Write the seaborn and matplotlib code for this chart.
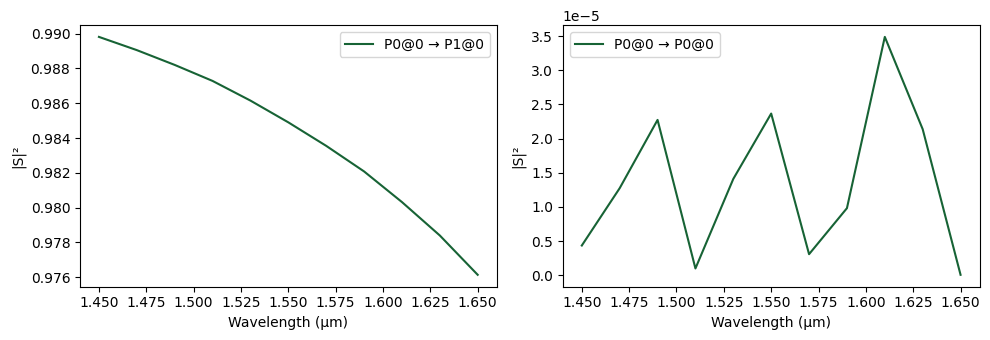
import numpy as np
import pandas as pd
import matplotlib
matplotlib.use("Agg")
import matplotlib.pyplot as plt
import matplotlib.ticker as mticker
import seaborn as sns

wavelength = [1.45, 1.47, 1.49, 1.51, 1.53, 1.55, 1.57, 1.59, 1.61, 1.63, 1.65]
s_p0_p1 = [0.98981, 0.98905, 0.98820, 0.98728, 0.98615, 0.98490, 0.98355, 0.98208, 0.98032, 0.97840, 0.97614]
s_p0_p0 = [0.434e-5, 1.274e-5, 2.274e-5, 0.098e-5, 1.41e-5, 2.367e-5, 0.307e-5, 0.981e-5, 3.49e-5, 2.138e-5, 0.005e-5]

line_color = "#176335"

plt.rcParams["font.family"] = ["DejaVu Sans"]

fig, axes = plt.subplots(1, 2, figsize=(9.9, 3.4), dpi=100)
fig.subplots_adjust(left=80 / 990, right=979.5 / 990, top=1 - 25 / 340,
                    bottom=1 - 286.7 / 340, wspace=0.159)

df1 = pd.DataFrame({"wl": wavelength, "s": s_p0_p1})
df2 = pd.DataFrame({"wl": wavelength, "s": s_p0_p0})

sns.lineplot(data=df1, x="wl", y="s", ax=axes[0], color=line_color,
             label="P0@0 \u2192 P1@0")
sns.lineplot(data=df2, x="wl", y="s", ax=axes[1], color=line_color,
             label="P0@0 \u2192 P0@0")

for ax, loc in zip(axes, ["upper right", "upper left"]):
    ax.set_xlabel("Wavelength (\u00b5m)")
    ax.set_ylabel("|S|\u00b2")
    ax.set_xticks([1.45, 1.475, 1.5, 1.525, 1.55, 1.575, 1.6, 1.625, 1.65])
    ax.xaxis.set_major_formatter(mticker.FormatStrFormatter("%.3f"))
    ax.legend(loc=loc)

axes[0].yaxis.set_major_formatter(mticker.FormatStrFormatter("%.3f"))

fig.savefig("out.png", dpi=100)
